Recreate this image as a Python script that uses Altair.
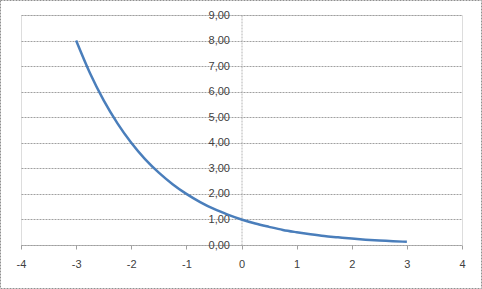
import altair as alt
import pandas as pd

xs = [-3, -2.75, -2.5, -2.25, -2, -1.75, -1.5, -1.25, -1, -0.75, -0.5, -0.25,
      0, 0.25, 0.5, 0.75, 1, 1.25, 1.5, 1.75, 2, 2.25, 2.5, 2.75, 3]
ys = [8.0, 6.73, 5.66, 4.76, 4.0, 3.36, 2.83, 2.38, 2.0, 1.68, 1.41, 1.19,
      1.0, 0.84, 0.71, 0.59, 0.5, 0.42, 0.35, 0.30, 0.25, 0.21, 0.18, 0.15, 0.125]
x_ticks = [-4, -3, -2, -1, 0, 1, 2, 3, 4]
y_ticks = [0, 1, 2, 3, 4, 5, 6, 7, 8, 9]

df = pd.DataFrame({"x": xs, "y": ys})

FONT = "Liberation Sans"
LBL = "#404040"
AX = "#a0a0a0"

line = alt.Chart(df).mark_line(color="#4A7EBB", strokeWidth=2.5, interpolate="monotone").encode(
    x=alt.X("x:Q", scale=alt.Scale(domain=[-4, 4], nice=False),
            axis=alt.Axis(values=x_ticks, title=None, grid=False, domainColor=AX,
                          domainDash=[2, 1], tickColor=AX, tickSize=4, labelPadding=9,
                          labelFont=FONT, labelFontSize=11, labelColor=LBL, labelFlush=False,
                          labelExpr="toString(datum.value)")),
    y=alt.Y("y:Q", scale=alt.Scale(domain=[0, 9], nice=False),
            axis=alt.Axis(values=y_ticks, title=None, grid=True, gridColor="#a0a0a0",
                          gridDash=[2, 1], gridWidth=1, domainColor="#b4b4b4",
                          domainDash=[2, 1], ticks=False, labelPadding=12, offset=-220.5,
                          labelExpr="replace(format(datum.value, '.2f'), '.', ',')",
                          labelFont=FONT, labelFontSize=11, labelColor=LBL)),
)

frame = alt.Chart(pd.DataFrame({"a": [0]})).mark_rect(
    fill=None, stroke="#909090", strokeDash=[2, 1], strokeWidth=1, clip=False
).encode(x=alt.value(-20.5), x2=alt.value(460.5), y=alt.value(-14.5), y2=alt.value(273.5))

chart = alt.layer(line, frame).properties(
    width=441, height=230,
    autosize=alt.AutoSizeParams(type="none"),
    padding={"left": 21, "top": 15, "right": 20, "bottom": 44},
).configure_view(stroke=None).configure(background="white")

chart.save("out.html", embed_options={"renderer": "svg", "actions": False})
